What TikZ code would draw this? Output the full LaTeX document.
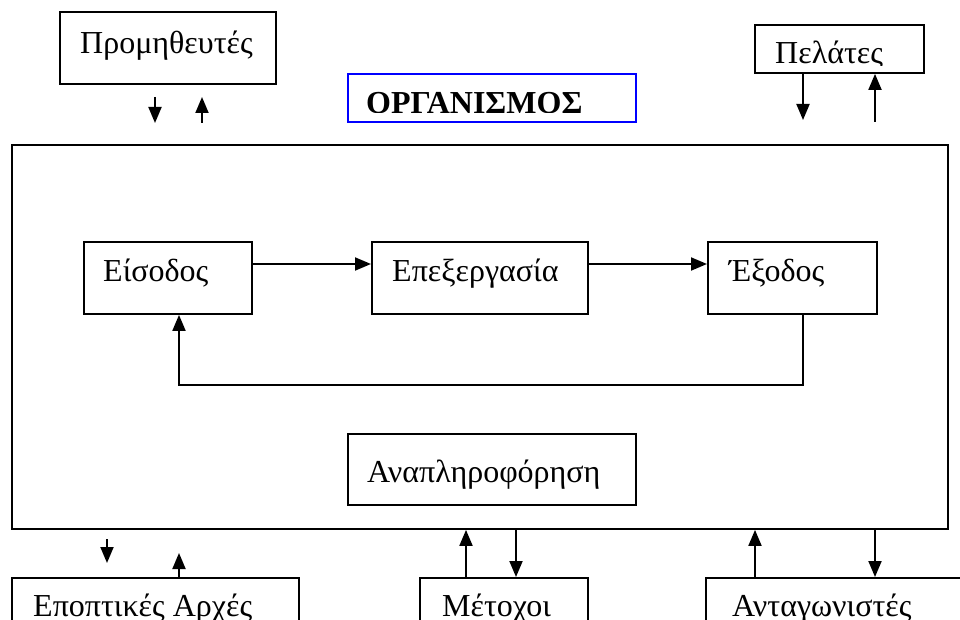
\documentclass[tikz,border=0pt]{standalone}
\usepackage{fontspec}
\setmainfont{Liberation Serif}
\usetikzlibrary{arrows.meta}
\begin{document}
\begin{tikzpicture}[x=1pt,y=-1pt,
  box/.style={draw=black, line width=1.9pt, rectangle, inner sep=0pt, anchor=north west},
  bluebox/.style={draw={rgb,255:red,0;green,0;blue,255}, line width=1.9pt, rectangle, inner sep=0pt, anchor=north west},
  lbl/.style={inner sep=0pt, anchor=base west, font=\fontsize{32pt}{38pt}\selectfont},
  blbl/.style={inner sep=0pt, anchor=base west, font=\fontsize{32pt}{38pt}\selectfont\bfseries},
  arr/.style={line width=1.9pt, -{Triangle[length=16pt,width=13pt]}}]
\useasboundingbox (0,0) rectangle (960,620);
\clip (0,0) rectangle (960,620);
\fill[white] (0,0) rectangle (960,620);

% top boxes
\node[box, minimum width=216pt, minimum height=72pt] (prom) at (59,11) {};
\node[lbl] (promt) at (80,54) {Προμηθευτές};

\node[bluebox, minimum width=288pt, minimum height=48pt] (org) at (347,73) {};
\begin{scope}
  \clip (347,73) rectangle (635,112.5);
  \node[blbl] (orgt) at (366,114) {ΟΡΓΑΝΙΣΜΟΣ};
\end{scope}

\node[box, minimum width=169pt, minimum height=48pt] (pel) at (754,24) {};
\begin{scope}
  \clip (754,24) rectangle (923,65.5);
  \node[lbl] (pelt) at (775,64) {Πελάτες};
\end{scope}

% main box
\node[box, minimum width=936pt, minimum height=384pt] (main) at (11,144) {};

% inner process
\node[box, minimum width=168pt, minimum height=72pt] (eis) at (83,241) {};
\node[lbl] (eist) at (103,281) {Είσοδος};
\node[box, minimum width=216pt, minimum height=72pt] (epe) at (371,241) {};
\node[lbl] (epet) at (392,281) {Επεξεργασία};
\node[box, minimum width=169pt, minimum height=72pt] (exo) at (707,241) {};
\node[lbl] (exot) at (729,281) {Έξοδος};

\node[box, minimum width=288pt, minimum height=71pt] (ana) at (347,433) {};
\node[lbl] (anat) at (367,482) {Αναπληροφόρηση};

% bottom boxes
\node[box, minimum width=287pt, minimum height=90pt] (epo) at (11,577) {};
\node[lbl] (epot) at (33,616) {Εποπτικές Αρχές};
\node[box, minimum width=168pt, minimum height=90pt] (met) at (419,577) {};
\node[lbl] (mett) at (442,616) {Μέτοχοι};
\node[box, minimum width=270pt, minimum height=90pt] (ant) at (705,577) {};
\node[lbl] (antt) at (732,616) {Ανταγωνιστές};

% coordinates
\coordinate (ay) at (0,264);
\coordinate (fbR) at (803,385);
\coordinate (fbL) at (179,385);
\coordinate (p1a) at (155,97);
\coordinate (p1b) at (155,123);
\coordinate (p2a) at (202,123);
\coordinate (p2b) at (202,97);
\coordinate (c1) at (803,120);
\coordinate (c2) at (875,122);
\coordinate (e1a) at (107,539);
\coordinate (e1b) at (107,563);
\coordinate (e2) at (179,553);
\coordinate (mx1) at (466,0);
\coordinate (mx2) at (516,0);
\coordinate (ax1) at (755,0);
\coordinate (ax2) at (875,0);

% process arrows
\draw[arr] (eis.east |- ay) -- (epe.west |- ay);
\draw[arr] (epe.east |- ay) -- (exo.west |- ay);
\draw[arr] (exo.south -| fbR) -- (fbR) -- (fbL) -- (eis.south -| fbL);

% top arrows
\draw[arr] (p1a) -- (p1b);
\draw[arr] (p2a) -- (p2b);
\draw[arr] (pel.south -| c1) -- (c1);
\draw[arr] (c2) -- (pel.south -| c2);

% bottom arrows
\draw[arr] (e1a) -- (e1b);
\draw[arr] (epo.north -| e2) -- (e2);
\draw[arr] (met.north -| mx1) -- (main.south -| mx1);
\draw[arr] (main.south -| mx2) -- (met.north -| mx2);
\draw[arr] (ant.north -| ax1) -- (main.south -| ax1);
\draw[arr] (main.south -| ax2) -- (ant.north -| ax2);
\end{tikzpicture}
\end{document}
